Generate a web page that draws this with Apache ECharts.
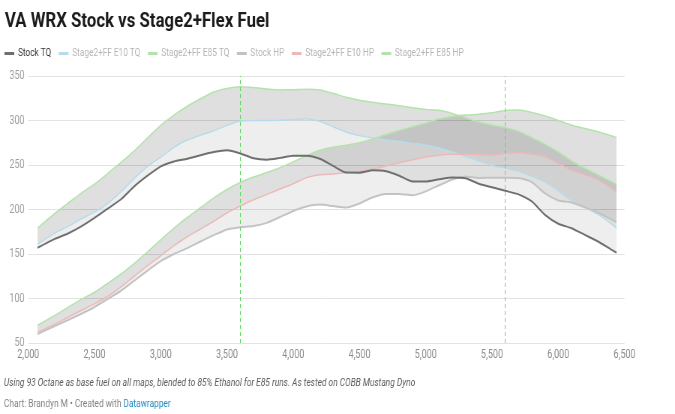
<!DOCTYPE html>
<html><head><meta charset="utf-8">
<script src="https://cdn.jsdelivr.net/npm/echarts@6/dist/echarts.min.js"></script>
<style>html,body{margin:0;padding:0;background:#fff;overflow:hidden;width:675px;height:414px}
#c{width:900px;height:414px;transform:scaleX(0.75);transform-origin:0 0}</style>
</head><body><div id="c"></div>
<script>
const rpm = [2070,2200,2300,2400,2500,2600,2700,2800,2900,3000,3100,3200,3300,3400,3500,3600,3700,3800,3900,4000,4100,4200,4300,4400,4500,4600,4700,4800,4900,5000,5100,5200,5300,5400,5500,5600,5700,5800,5900,6000,6100,6200,6300,6400,6440];
const stockTQ = [157,167,173,181,190.5,201,211.5,226,238,248.5,254,257,261,264.5,266.5,263,257.5,256,258,260.5,260.5,257,249,241.5,241.4,244,243,238,231.5,231.5,234,236,235,229,225,221,217,209,194,184,179,171.5,164,155,151.5];
const e10TQ = [161,173.5,181,189.5,197,207,220,235,248.5,259,270,278,283.5,288.5,294.5,299.4,300,300,300.2,301,302,299,293,287,283,280.3,278,276.3,274.3,272.3,269,264.5,259.8,254.5,249.5,246.5,243,237.4,231,221,210,202.5,194.5,184,179];
const e85TQ = [179,195.5,207,218.5,228.5,240.5,253,266,280.5,294.5,306,316,324.5,332,336,338,337,335.4,334.3,334.6,335,334.3,330.5,326,322.7,320.4,318.5,316.7,314.4,312.5,311.4,308,303.2,298.3,294.6,292,287.8,280.7,273.2,264.6,254.5,246.3,238.8,231.3,228.3];
const stockHP = [60,69,75.8,82.8,90.5,99.5,108.7,120,131.4,142,150,156.6,164,171.2,177.6,180,181.4,185,191.6,198.4,203.3,205.5,203.9,202.3,206.8,213.7,217.5,217.5,216,220.4,227.2,233.7,237.2,235.5,235.6,235.7,235.5,230.8,218,210.2,207.9,202.5,196.7,188.9,185.8];
const e10HP = [62,71,79,86.6,94,102.5,113,125,137,148,159.5,169.4,178.1,186.8,196.3,204,211,217,223,229,235.8,239.1,239.9,241.5,243,245.5,249,252.5,255.9,259,261,262,262,261.7,261.2,262.8,263.7,262.2,259.5,251.7,244,239,233.3,224,219.3];
const e85HP = [70,81,90,99,107,117,127.5,139.5,152.5,166,179,191,202,213,222.5,230.5,236.5,241.5,247,253.5,260.5,266.5,270,272.2,275,279.3,284.2,288.7,293,297,301.7,304.6,306.1,307,308.6,311.3,311.8,309,305,300,294.7,291,287.3,282.8,280.7];
const seriesNames = ['Stock TQ','Stage2+FF E10 TQ','Stage2+FF E85 TQ','Stock HP','Stage2+FF E10 HP','Stage2+FF E85 HP'];
const xTicks = [2000,2500,3000,3500,4000,4500,5000,5500,6000,6500];
const yTicks = [50,100,150,200,250,300,350];
const markRpm = [3600,5600];
const titleText = 'VA WRX Stock vs Stage2+Flex Fuel';
const noteText = 'Using 93 Octane as base fuel on all maps, blended to 85% Ethanol for E85 runs. As tested on COBB Mustang Dyno';

const pairs = a => rpm.map((r,i)=>[r,a[i]]);
const SM = 0.2;
const fill = 'rgba(0,0,0,0.066)';
function band(lower, upper){
  return {
    type:'custom', coordinateSystem:'cartesian2d', silent:true, z:1,
    data:[[rpm[0], lower[0]]],
    renderItem:(params, api)=>{
      const pts = [];
      for (let i=0;i<rpm.length;i++) pts.push(api.coord([rpm[i], upper[i]]));
      for (let i=rpm.length-1;i>=0;i--) pts.push(api.coord([rpm[i], lower[i]]));
      return {type:'polygon', shape:{points:pts}, style:{fill:fill}};
    }
  };
}
const colors = ['#6f6f6f','#b7dbeb','#b3e3ab','#c3c3c3','#ecb9b9','#b3e3ab'];
const widths = [2,1.5,1.5,2,1.5,1.5];
const dataSets = [stockTQ,e10TQ,e85TQ,stockHP,e10HP,e85HP];
const lineSeries = seriesNames.map((n,i)=>({
  name:n, type:'line', data:pairs(dataSets[i]), symbol:'none', smooth:SM,
  lineStyle:{color:colors[i], width:widths[i]}, itemStyle:{color:colors[i]},
  z: 3 + (i===0?2:(i===3?1:0)), silent:true
}));
lineSeries[0].markLine = {
  silent:true, symbol:['none','none'], label:{show:false},
  lineStyle:{color:'#5cd65c', type:[4,3], width:1},
  data: markRpm.map(v=>({xAxis:v}))
};
const chart = echarts.init(document.getElementById('c'), null, {renderer:'canvas'});
chart.setOption({
  animation:false,
  textStyle:{fontFamily:'Roboto'},
  grid:{left:37.7, right:67.3, top:76, bottom:71, outerBoundsMode:'none', containLabel:false},
  xAxis:{type:'value', min:xTicks[0], max:xTicks[xTicks.length-1], interval:xTicks[1]-xTicks[0],
    axisLine:{show:false}, axisTick:{show:false}, splitLine:{show:false},
    axisLabel:{color:'#8a8a8a', fontSize:12, margin:6, formatter:v=>v.toLocaleString('en-US')}},
  yAxis:{type:'value', min:yTicks[0], max:yTicks[yTicks.length-1], interval:yTicks[1]-yTicks[0],
    axisLine:{show:false}, axisTick:{show:false},
    splitLine:{lineStyle:{color:'#e3e3e3', width:1}},
    axisLabel:{color:'#a0a0a0', fontSize:12, margin:5}},
  legend:{data:seriesNames.map((n,i)=>({name:n, textStyle:{color:i===0?'#333':'#b5b5b5'}})),
    icon:'rect', itemWidth:13, itemHeight:3, itemGap:10, left:6, top:48, padding:0,
    selectedMode:false, textStyle:{fontSize:11, fontFamily:'Roboto'}},
  graphic:[
    {type:'text', x:6.5, y:22, scaleX:1.12, style:{text:titleText, fontFamily:'Roboto', fontWeight:'bold', fontSize:20, fill:'#1b1b1b', verticalAlign:'middle'}},
    {type:'text', x:5.3, y:383, style:{text:noteText, fontFamily:'Roboto', fontStyle:'italic', fontSize:11.2, fill:'#5a5a5a', verticalAlign:'middle'}},
    {type:'text', x:5.3, y:404, style:{text:'{a|Chart: Brandyn M • Created with }{b|Datawrapper}', fontFamily:'Roboto', fontSize:11.1, verticalAlign:'middle',
      rich:{a:{fill:'#808080', fontFamily:'Roboto', fontSize:11.1}, b:{fill:'#1d8ac1', fontFamily:'Roboto', fontSize:11.1}}}}
  ],
  series:[
    band(stockTQ,e85TQ), band(e10TQ,e85TQ), band(stockHP,e85HP), band(e10HP,e85HP),
    ...lineSeries
  ]
});
</script></body></html>
